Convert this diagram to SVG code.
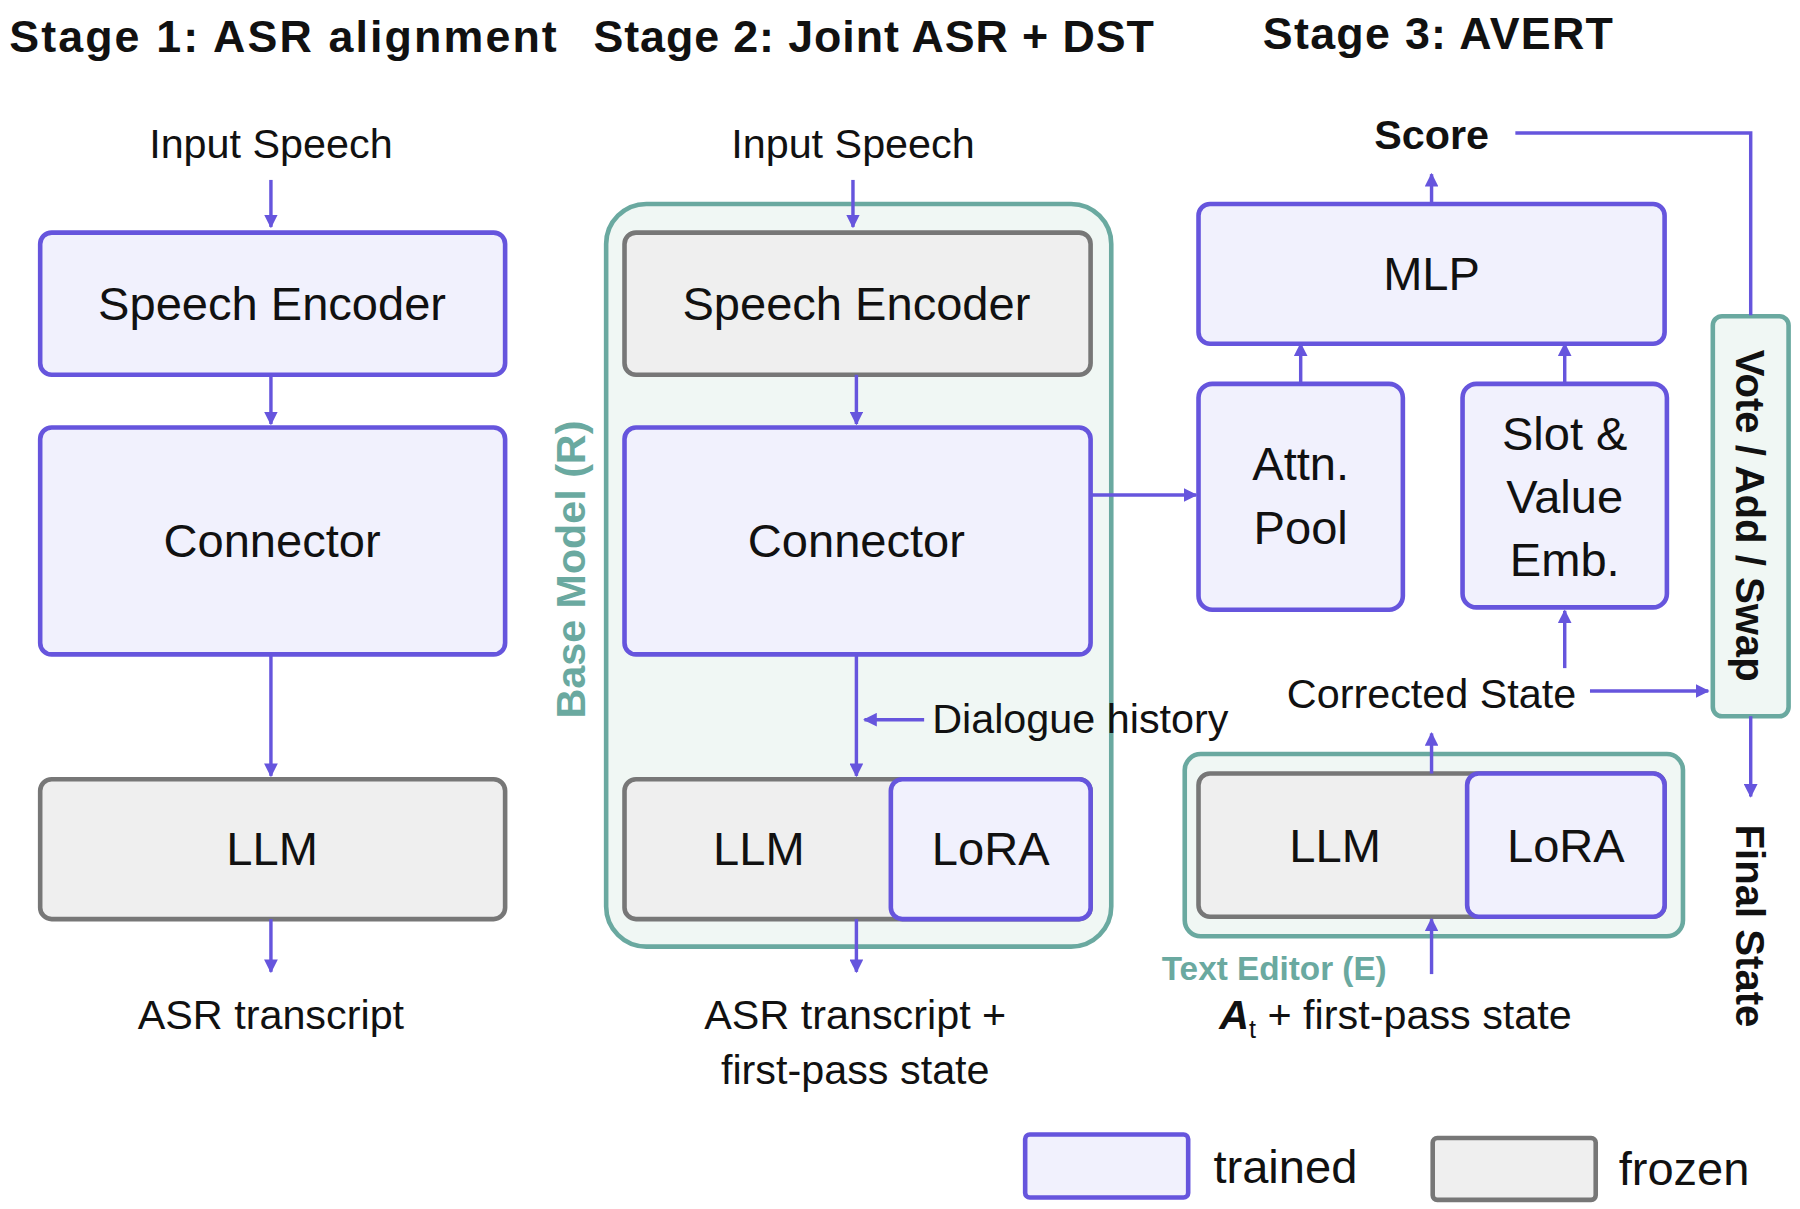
<svg xmlns="http://www.w3.org/2000/svg" width="1800" height="1209" viewBox="0 0 1800 1209">
<defs>
<marker id="ah" viewBox="0 0 10 10" refX="9" refY="5" markerWidth="4" markerHeight="4" orient="auto"><path d="M0,0 L10,5 L0,10 z" fill="#6655dd"/></marker>
<style>
.tr{fill:#f1f1fd;stroke:#6655dd;stroke-width:4}
.fr{fill:#efefef;stroke:#777;stroke-width:4}
.tc{fill:#f0f7f4;stroke:#6aa9a0;stroke-width:4}
.lb{font-family:"Liberation Sans",Arial,sans-serif;font-size:41px;fill:#111;text-anchor:middle}
.sm{font-family:"Liberation Sans",Arial,sans-serif;font-size:36px;fill:#111;text-anchor:middle}
.tt{font-family:"Liberation Sans",Arial,sans-serif;font-size:39px;font-weight:bold;fill:#111}
.cn{fill:none;stroke:#6655dd;stroke-width:3;marker-end:url(#ah)}
.ln{fill:none;stroke:#6655dd;stroke-width:3}
</style>
</defs>
<rect width="1800" height="1209" fill="#fff"/>
<g transform="scale(1.148,1.146)">
<g id="titles">
<text class="tt" x="8" y="45" textLength="477">Stage 1: ASR alignment</text>
<text class="tt" x="517" y="45" textLength="488">Stage 2: Joint ASR + DST</text>
<text class="tt" x="1100" y="43" textLength="305">Stage 3: AVERT</text>
</g>
<g id="s1">
<text class="sm" x="236" y="138">Input Speech</text>
<g id="s1enc"><rect class="tr" x="35" y="203" width="405" height="124" rx="10"/><text class="lb" x="237" y="279">Speech Encoder</text></g>
<g id="s1con"><rect class="tr" x="35" y="373" width="405" height="198" rx="10"/><text class="lb" x="237" y="486">Connector</text></g>
<g id="s1llm"><rect class="fr" x="35" y="680" width="405" height="122" rx="10"/><text class="lb" x="237" y="755">LLM</text></g>
<text class="sm" x="236" y="898">ASR transcript</text>
</g>
<g id="s2">
<rect class="tc" x="528" y="178" width="440" height="648" rx="35"/>
<text transform="translate(510,497) rotate(-90)" style="font-family:'Liberation Sans',Arial,sans-serif;font-size:36px;font-weight:bold;fill:#6aa9a0;text-anchor:middle">Base Model (R)</text>
<text class="sm" x="743" y="138">Input Speech</text>
<g id="s2enc"><rect class="fr" x="544" y="203" width="406" height="124" rx="10"/><text class="lb" x="746" y="279">Speech Encoder</text></g>
<g id="s2con"><rect class="tr" x="544" y="373" width="406" height="198" rx="10"/><text class="lb" x="746" y="486">Connector</text></g>
<g id="s2llm"><rect class="fr" x="544" y="680" width="406" height="122" rx="10"/><text class="lb" x="661" y="755">LLM</text></g>
<g id="s2lora"><rect class="tr" x="776" y="680" width="174" height="122" rx="10"/><text class="lb" x="863" y="755">LoRA</text></g>
<text class="sm" x="812" y="640" style="text-anchor:start">Dialogue history</text>
<text class="sm" x="745" y="898">ASR transcript +</text>
<text class="sm" x="745" y="946">first-pass state</text>
</g>
<g id="s3">
<g id="mlp"><rect class="tr" x="1044" y="178" width="406" height="122" rx="10"/><text class="lb" x="1247" y="253">MLP</text></g>
<g id="attn"><rect class="tr" x="1044" y="335" width="178" height="197" rx="12"/><text class="lb" x="1133" y="419">Attn.</text><text class="lb" x="1133" y="475">Pool</text></g>
<g id="slot"><rect class="tr" x="1274" y="335" width="178" height="195" rx="12"/><text class="lb" x="1363" y="393">Slot &amp;</text><text class="lb" x="1363" y="448">Value</text><text class="lb" x="1363" y="503">Emb.</text></g>
<text class="sm" x="1247" y="130" style="font-weight:bold">Score</text>
<text class="sm" x="1247" y="618">Corrected State</text>
<g id="vote"><rect class="tc" x="1492" y="276" width="66" height="349" rx="8"/><text transform="translate(1512,450) rotate(90)" style="font-family:'Liberation Sans',Arial,sans-serif;font-size:35px;font-weight:bold;fill:#111;text-anchor:middle">Vote / Add / Swap</text></g>
<text transform="translate(1512,808) rotate(90)" style="font-family:'Liberation Sans',Arial,sans-serif;font-size:35px;font-weight:bold;fill:#111;text-anchor:middle">Final State</text>
<g id="editor">
<rect class="tc" x="1032" y="658" width="434" height="159" rx="14"/>
<rect class="fr" x="1044" y="675" width="406" height="125" rx="10"/><text class="lb" x="1163" y="752">LLM</text>
<rect class="tr" x="1278" y="675" width="172" height="125" rx="10"/><text class="lb" x="1364" y="752">LoRA</text>
</g>
<text x="1012" y="855" style="font-family:'Liberation Sans',Arial,sans-serif;font-size:29px;font-weight:bold;fill:#6aa9a0">Text Editor (E)</text>
<text x="1062" y="898" class="sm" style="text-anchor:start"><tspan font-weight="bold" font-style="italic">A</tspan><tspan font-size="22" dy="8">t</tspan><tspan dy="-8"> + first-pass state</tspan></text>
</g>
<g id="connectors">
<path class="cn" d="M236,157 V198"/>
<path class="cn" d="M236,327 V370"/>
<path class="cn" d="M236,571 V677"/>
<path class="cn" d="M236,802 V848"/>
<path class="cn" d="M743,157 V198"/>
<path class="cn" d="M746,327 V370"/>
<path class="cn" d="M746,571 V677"/>
<path class="cn" d="M805,628 H753"/>
<path class="cn" d="M746,802 V848"/>
<path class="cn" d="M950,432 H1042"/>
<path class="cn" d="M1133,335 V300"/>
<path class="cn" d="M1363,335 V300"/>
<path class="cn" d="M1247,178 V152"/>
<path class="cn" d="M1363,583 V533"/>
<path class="cn" d="M1385,603 H1488"/>
<path class="ln" d="M1320,116 H1525 V275"/>
<path class="cn" d="M1525,625 V695"/>
<path class="cn" d="M1247,675 V640"/>
<path class="cn" d="M1247,850 V802"/>
</g>
<g id="legend">
<rect class="tr" x="893" y="990" width="142" height="55" rx="4"/><text class="lb" x="1057" y="1032" style="text-anchor:start">trained</text>
<rect class="fr" x="1248" y="993" width="142" height="54" rx="4"/><text class="lb" x="1410" y="1034" style="text-anchor:start">frozen</text>
</g>
</g>
</svg>
